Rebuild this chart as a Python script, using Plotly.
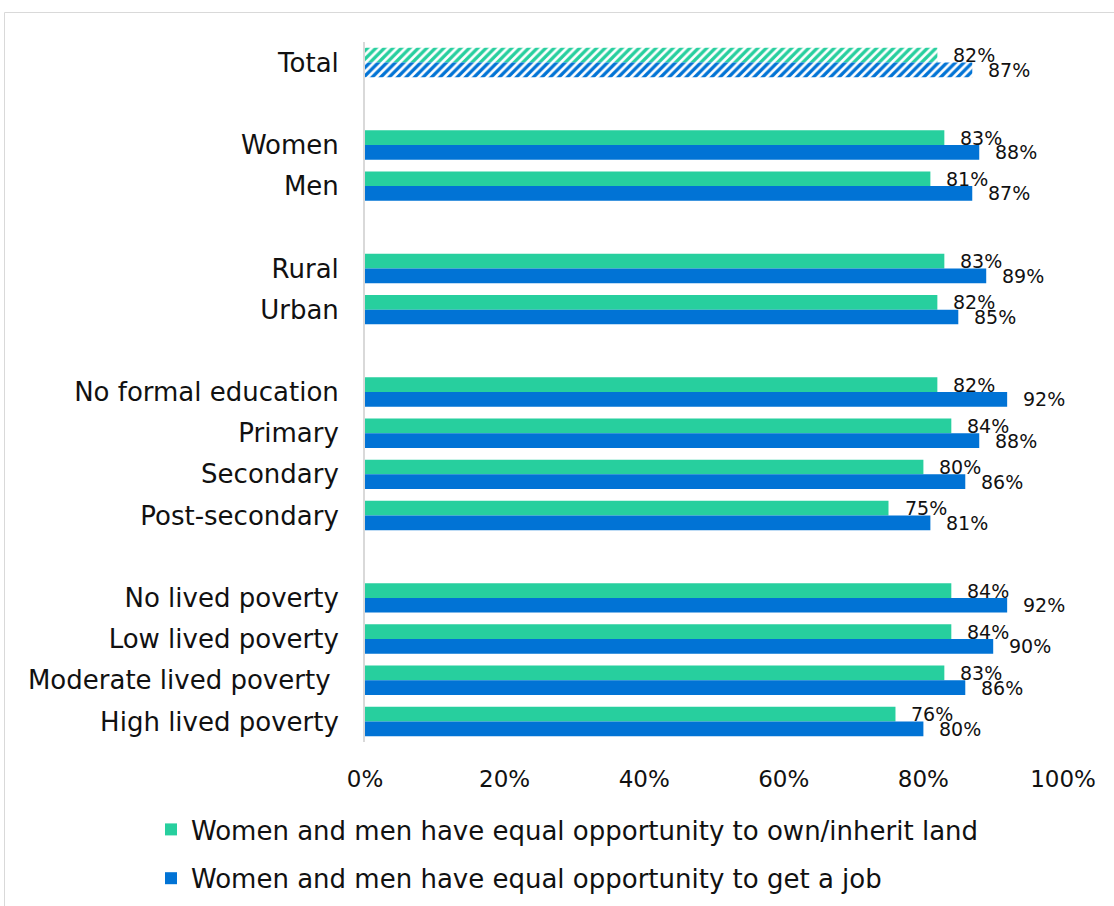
import plotly.graph_objects as go

# Survey breakdowns, grouped; a blank slot separates consecutive groups
categories = [
    "Total",
    "Women", "Men",
    "Rural", "Urban",
    "No formal education", "Primary", "Secondary", "Post-secondary",
    "No lived poverty", "Low lived poverty", "Moderate lived poverty\u00a0", "High lived poverty",
]
group_ids = [0, 1, 1, 2, 2, 3, 3, 3, 3, 4, 4, 4, 4]

land_pct = [82, 83, 81, 83, 82, 82, 84, 80, 75, 84, 84, 83, 76]
job_pct = [87, 88, 87, 89, 85, 92, 88, 86, 81, 92, 90, 86, 80]

x_ticks = [0, 20, 40, 60, 80, 100]

land_name = "Women and men have equal opportunity to own/inherit land"
job_name = "Women and men have equal opportunity to get a job"

GREEN = "#27CF9E"
BLUE = "#0173D5"
FONT = "DejaVu Sans"
TEXT = "#111111"

W, H = 1114, 906
ML, MR, MT, MB = 365, 51, 42, 164
BARGAP = 0.285

# slot index of each category (one empty slot between groups)
pos = [i + g for i, g in enumerate(group_ids)]
n_slots = pos[-1] + 1
half = (1 - BARGAP) / 4  # offset of each bar centre from the slot centre

is_total = [c == "Total" for c in categories]
main = [not t for t in is_total]


def subset(vals, keep):
    return [v for v, k in zip(vals, keep) if k]


fig = go.Figure()

# solid bars
fig.add_trace(go.Bar(
    y=subset(pos, main), x=subset(land_pct, main), orientation="h",
    name=land_name, marker=dict(color=GREEN, line=dict(width=0)),
    offsetgroup="land", legendgroup="land", hoverinfo="skip",
))
fig.add_trace(go.Bar(
    y=subset(pos, main), x=subset(job_pct, main), orientation="h",
    name=job_name, marker=dict(color=BLUE, line=dict(width=0)),
    offsetgroup="job", legendgroup="job", hoverinfo="skip",
))

# hatched bars for the overall total
for vals, color, grp in [(land_pct, GREEN, "land"), (job_pct, BLUE, "job")]:
    fig.add_trace(go.Bar(
        y=subset(pos, is_total), x=subset(vals, is_total), orientation="h",
        showlegend=False, offsetgroup=grp, legendgroup=grp, hoverinfo="skip",
        marker=dict(
            color="white", line=dict(width=0),
            pattern=dict(shape="/", fgcolor=color, bgcolor="white",
                         size=6, solidity=0.55, fillmode="replace"),
        ),
    ))

# value labels just past the bar ends
annotations = []
for p, lv, jv in zip(pos, land_pct, job_pct):
    for v, dy in [(lv, -half), (jv, half)]:
        annotations.append(dict(
            x=v, y=p + dy, xref="x", yref="y", text=f"{v}%",
            showarrow=False, xanchor="left", yanchor="middle", xshift=14,
            font=dict(family=FONT, size=19, color=TEXT),
        ))

# light chart-area border (top and left edges), pixels converted to paper units
pw, ph = W - ML - MR, H - MT - MB


def px_to_paper_x(px):
    return (px - ML) / pw


def px_to_paper_y(py):
    return (H - MB - py) / ph


border = dict(color="#d9d9d9", width=1)
shapes = [
    dict(type="line", xref="paper", yref="paper",
         x0=px_to_paper_x(4.5), x1=px_to_paper_x(W + 20),
         y0=px_to_paper_y(12.5), y1=px_to_paper_y(12.5), line=border, layer="below"),
    dict(type="line", xref="paper", yref="paper",
         x0=px_to_paper_x(4.5), x1=px_to_paper_x(4.5),
         y0=px_to_paper_y(12.5), y1=px_to_paper_y(H + 20), line=border, layer="below"),
]

fig.update_layout(
    width=W, height=H,
    margin=dict(l=ML, r=MR, t=MT, b=MB, pad=0, autoexpand=False),
    paper_bgcolor="white", plot_bgcolor="white",
    barmode="group", bargap=BARGAP, bargroupgap=0,
    font=dict(family=FONT, color=TEXT),
    showlegend=True,
    legend=dict(
        orientation="v", x=px_to_paper_x(151), y=px_to_paper_y(806),
        xanchor="left", yanchor="top",
        font=dict(family=FONT, size=26, color=TEXT),
        tracegroupgap=12, itemwidth=30, bgcolor="rgba(0,0,0,0)",
    ),
    xaxis=dict(
        range=[0, 100], tickvals=x_ticks, ticktext=[f"{t}%" for t in x_ticks],
        showgrid=False, zeroline=False, showline=False, ticks="",
        tickfont=dict(family=FONT, size=23, color=TEXT), ticklabelstandoff=21,
        fixedrange=True, automargin=False,
    ),
    yaxis=dict(
        range=[n_slots - 0.5, -0.5], tickvals=pos, ticktext=categories,
        showgrid=False, zeroline=False, showline=True,
        linecolor="#d9d9d9", linewidth=2, ticks="",
        tickfont=dict(family=FONT, size=26, color=TEXT), ticklabelstandoff=19,
        fixedrange=True, automargin=False,
    ),
    annotations=annotations,
    shapes=shapes,
)

fig.write_html("out.html")
